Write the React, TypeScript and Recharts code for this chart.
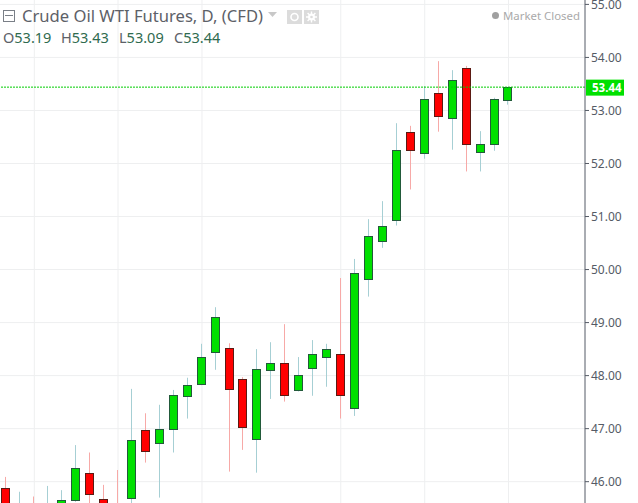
import React from "react";
import { ComposedChart, Bar, XAxis, YAxis, CartesianGrid, ReferenceLine } from "recharts";

const opens = [45.89,45.2,45.5,45.2,45.4,45.65,46.16,45.67,45.5,45.69,46.97,46.72,46.99,47.61,47.85,48.44,48.53,47.93,46.8,48.1,48.23,47.72,48.14,48.35,48.4,47.38,49.82,50.53,50.93,52.59,52.19,53.32,52.85,53.81,52.21,52.36,53.19];
const highs = [46.09,45.81,45.72,45.92,45.84,46.69,46.55,45.94,46.22,47.75,47.29,47.45,47.73,47.96,48.6,49.29,48.61,47.97,48.5,48.63,48.97,48.35,48.67,48.6,49.84,50.2,50.95,51.29,52.76,52.71,53.46,53.93,53.76,53.84,52.61,53.24,53.44];
const lows = [45.3,45.1,45.2,45.0,45.3,45.62,45.4,45.2,45.1,45.5,46.36,45.7,46.55,47.19,47.82,48.11,46.19,46.6,46.17,47.56,47.51,47.7,47.62,47.79,47.19,47.24,49.49,50.41,50.83,51.51,52.09,52.6,52.26,51.85,51.85,52.24,53.11];
const closes = [45.5,45.5,45.3,45.5,45.65,46.25,45.76,45.4,45.3,46.78,46.57,46.99,47.63,47.82,48.36,49.1,47.74,47.03,48.12,48.23,47.63,48.01,48.4,48.51,47.63,49.93,50.63,50.83,52.25,52.25,53.21,52.9,53.57,52.36,52.36,53.21,53.44];
const priceTicks = [46,47,48,49,50,51,52,53,54,55];
const gridX = [2.08,8.08,14.1,24.05,30.07,36.08];
const lastPrice = 53.44;
const yDomain = [45.598,55.083];
const xDomain = [-0.38,41.56];

const data = opens.map((o,i)=>({i,o,c:closes[i],h:highs[i],l:lows[i],range:[lows[i],highs[i]]}));

const UP = "#00e000", DOWN = "#ff0000";

function Candle(props:any){
  const {x,y,width,height,payload}=props;
  const {o,c,h,l}=payload;
  const up=c>=o;
  const py=(v:number)=>y+(h-v)/(h-l)*height;
  const cx=Math.round(x+width/2)+0.5;
  const top=Math.round(py(Math.max(o,c)))+0.5;
  const bot=Math.round(py(Math.min(o,c)))+0.5;
  return <g>
    <line x1={cx} x2={cx} y1={y} y2={y+height} stroke={up?"#a6cfd4":"#f7a9a7"} strokeWidth={1}/>
    <rect x={cx-4} y={top} width={8} height={Math.max(bot-top,1)} fill={up?UP:DOWN} stroke={up?"#225a3a":"#5b1a13"} strokeWidth={1}/>
  </g>;
}

function PriceTag(props:any){
  const {viewBox}=props;
  const y=viewBox.y;
  return <g>
    <rect x={586} y={y-7.5} width={38} height={16} fill="#00e000"/>
    <text x={592} y={y+5} fontSize={11.5} fontWeight={700} fill="#ffffff" fontFamily="'Noto Sans',sans-serif">{lastPrice.toFixed(2)}</text>
  </g>;
}

const font="'Noto Sans',sans-serif";
const ohlc:[string,string][]=[["O","53.19"],["H","53.43"],["L","53.09"],["C","53.44"]];
const ohlcX=[3,61,119,174];

export default function App(){
  return <div style={{position:"absolute",left:0,top:0,width:638,height:503,background:"#fff",overflow:"hidden"}}>
    <ComposedChart width={638} height={503} data={data} margin={{top:0,right:0,bottom:0,left:0}} barSize={8}>
      <CartesianGrid stroke="#eeeff0" strokeWidth={1} verticalValues={gridX} horizontalValues={priceTicks}/>
      <XAxis dataKey="i" type="number" domain={xDomain} allowDataOverflow hide height={0}/>
      <YAxis orientation="right" width={53} domain={yDomain} allowDataOverflow ticks={priceTicks} interval={0}
        tickFormatter={(v:number)=>v.toFixed(2)} axisLine={{stroke:"#555b66"}} tickLine={{stroke:"#555b66"}} tickSize={4}
        tick={{fontSize:12,fill:"#555b66",fontFamily:font}}/>
      <Bar dataKey="range" isAnimationActive={false} shape={<Candle/>}/>
      <ReferenceLine y={lastPrice} stroke="#00cc00" strokeDasharray="2 1" strokeWidth={1} label={<PriceTag/>}/>
    </ComposedChart>
    <div style={{position:"absolute",left:3,top:10,width:12,height:12,border:"1px solid #7a7f87",boxSizing:"border-box"}}>
      <div style={{position:"absolute",left:1,right:1,top:4,height:1,background:"#7a7f87"}}/>
    </div>
    <div style={{position:"absolute",left:22,top:5,fontFamily:font,fontSize:16.6,color:"#5d6168",whiteSpace:"nowrap",lineHeight:"22px"}}>Crude Oil WTI Futures, D, (CFD)</div>
    <svg style={{position:"absolute",left:268,top:12}} width={10} height={6}><path d="M0 0H9L4.5 5Z" fill="#c8c8c8"/></svg>
    <svg style={{position:"absolute",left:287,top:10}} width={33} height={15}>
      <rect x={0} y={0} width={15} height={14} fill="#dcdcdc"/>
      <circle cx={7.5} cy={7} r={3.5} fill="none" stroke="#fff" strokeWidth={1.6}/>
      <rect x={17} y={0} width={15} height={14} fill="#dcdcdc"/>
      <circle cx={24.5} cy={7} r={3.5} fill="#fff"/>
      <path d="M24.5 1.5V12.5M19 7H30M20.6 3.1L28.4 10.9M28.4 3.1L20.6 10.9" stroke="#fff" strokeWidth={1.4}/>
      <circle cx={24.5} cy={7} r={1.3} fill="#dcdcdc"/>
    </svg>
    {ohlc.map(([k,v],n)=><div key={k} style={{position:"absolute",left:ohlcX[n],top:27,fontFamily:font,fontSize:14.5,whiteSpace:"nowrap",lineHeight:"20px"}}>
      <span style={{color:"#5d6168"}}>{k}</span><span style={{color:"#2f6b4f"}}>{v}</span></div>)}
    <div style={{position:"absolute",left:492,top:12,width:7,height:7,borderRadius:4,background:"#a0a0a0"}}/>
    <div style={{position:"absolute",left:503,top:8,fontFamily:font,fontSize:11.4,color:"#aaaaaa",whiteSpace:"nowrap",lineHeight:"16px"}}>Market Closed</div>
  </div>;
}
